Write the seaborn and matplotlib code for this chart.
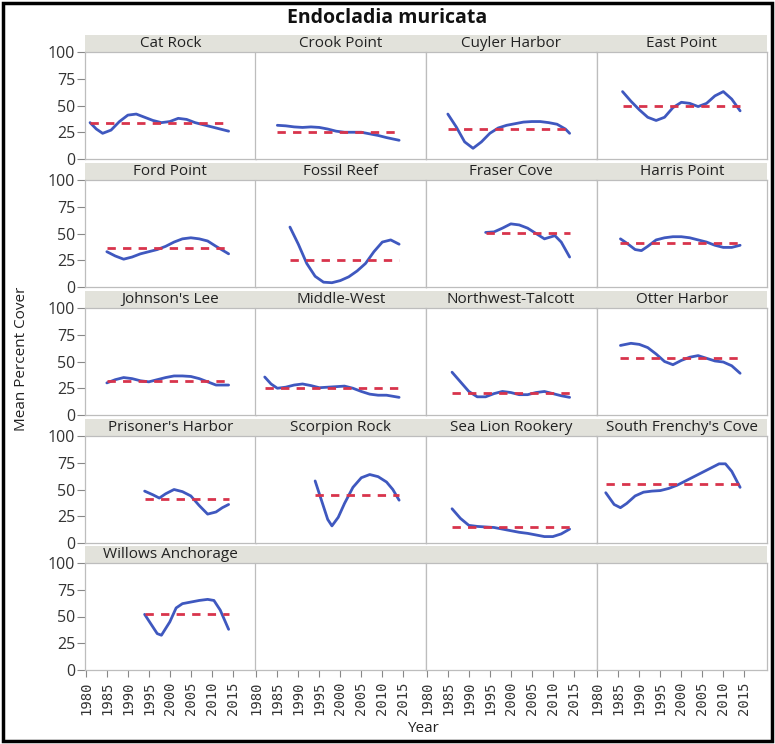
import numpy as np
import pandas as pd
import matplotlib
matplotlib.use('Agg')
import matplotlib.pyplot as plt
from matplotlib.patches import Rectangle
import seaborn as sns

sites = ['Cat Rock', 'Crook Point', 'Cuyler Harbor', 'East Point',
         'Ford Point', 'Fossil Reef', 'Fraser Cove', 'Harris Point',
         "Johnson's Lee", 'Middle-West', 'Northwest-Talcott', 'Otter Harbor',
         "Prisoner's Harbor", 'Scorpion Rock', 'Sea Lion Rookery', "South Frenchy's Cove",
         'Willows Anchorage']

# smoothed cover curve per site
years = {
    'Cat Rock': [1981, 1982.5, 1984, 1986, 1988, 1990, 1992, 1994, 1996, 1998, 2000, 2002, 2004, 2006, 2008, 2010, 2012, 2014],
    'Crook Point': [1985, 1987, 1989, 1991, 1993, 1995, 1997, 1999, 2001, 2003, 2005, 2007, 2009, 2011, 2014],
    'Cuyler Harbor': [1985, 1987, 1989, 1991, 1993, 1995, 1997, 1999, 2001, 2003, 2005, 2007, 2009, 2011, 2013, 2014],
    'East Point': [1986, 1988, 1990, 1992, 1994, 1996, 1998, 2000, 2002, 2004, 2006, 2008, 2010, 2012, 2014],
    'Ford Point': [1985, 1987, 1989, 1991, 1993, 1995, 1997, 1999, 2001, 2003, 2005, 2007, 2009, 2011, 2014],
    'Fossil Reef': [1988, 1990, 1992, 1994, 1996, 1998, 2000, 2002, 2004, 2006, 2008, 2010, 2012, 2014],
    'Fraser Cove': [1994, 1996, 1998, 2000, 2002, 2004, 2006, 2008, 2010.5, 2012, 2014],
    'Harris Point': [1985.5, 1987, 1989, 1990.5, 1992, 1994, 1996, 1998, 2000, 2002, 2004, 2006, 2008, 2010, 2012, 2014],
    "Johnson's Lee": [1985, 1987, 1989, 1991, 1993, 1995, 1997, 1999, 2001, 2003, 2005, 2007, 2009, 2011, 2014],
    'Middle-West': [1982, 1983.5, 1985, 1987, 1989, 1991, 1993, 1995, 1997, 1999, 2001, 2003, 2005, 2007, 2009, 2011, 2014],
    'Northwest-Talcott': [1986, 1988, 1990, 1992, 1994, 1996, 1998, 2000, 2002, 2004, 2006, 2008, 2010, 2012, 2014],
    'Otter Harbor': [1985.5, 1988, 1990, 1992, 1994, 1996, 1998, 2000, 2002, 2004, 2006, 2008, 2010, 2012, 2014],
    "Prisoner's Harbor": [1994, 1996, 1997.5, 1999, 2001, 2003, 2005, 2007, 2009, 2011, 2012.5, 2014],
    'Scorpion Rock': [1994, 1995.5, 1997, 1998, 1999.5, 2001, 2003, 2005, 2007, 2009, 2011, 2012.5, 2014],
    'Sea Lion Rookery': [1986, 1988, 1990, 1992, 1994, 1996, 1998, 2000, 2002, 2004, 2006, 2008, 2010, 2012, 2014],
    "South Frenchy's Cove": [1982, 1984, 1985.5, 1987, 1989, 1991, 1993, 1995, 1997, 1999, 2001, 2003, 2005, 2007, 2009, 2010.5, 2012, 2014],
    'Willows Anchorage': [1994, 1995.5, 1997, 1998, 2000, 2001.5, 2003, 2005, 2007, 2009, 2010.5, 2012, 2014],
}
cover = {
    'Cat Rock': [34, 28, 24, 27, 35, 41, 42, 39, 36, 34, 35, 38, 37, 34, 32, 30, 28, 26],
    'Crook Point': [31.5, 31, 30, 29.5, 30, 29.5, 28, 26, 25, 25, 25, 23.5, 22, 20, 17.5],
    'Cuyler Harbor': [42, 30, 16, 10, 16, 24, 29, 31.5, 33, 34.5, 35, 35, 34, 32.5, 28, 24],
    'East Point': [63, 54, 46, 39, 36, 39, 48, 53, 52, 49, 52, 59, 63, 56, 45],
    'Ford Point': [33, 29, 26, 28, 31, 33, 35, 38, 42, 45, 46, 45, 43, 38, 31],
    'Fossil Reef': [56, 40, 22, 10, 4.5, 4, 6, 9.5, 15, 22, 33, 42, 44, 40],
    'Fraser Cove': [51, 51.5, 55, 59, 58, 55, 50, 45, 48, 42, 28],
    'Harris Point': [45, 41, 35, 34, 38, 44, 46, 47, 47, 46, 44, 42, 39, 37, 37, 39],
    "Johnson's Lee": [30, 33, 35, 34, 32, 31, 33, 35, 36.5, 36.5, 36, 34, 31, 28, 28],
    'Middle-West': [35.5, 29, 25, 26, 28, 29, 27.5, 25.5, 26, 26.5, 27, 25, 22, 19.5, 18.5, 18.5, 16.5],
    'Northwest-Talcott': [40, 31, 22, 17, 17, 20, 22, 21, 19, 19, 21, 22, 20, 18, 16.5],
    'Otter Harbor': [65, 67, 66, 63, 57, 50, 47, 51, 54, 55.5, 53, 50.5, 49.5, 46, 39],
    "Prisoner's Harbor": [48.5, 45, 42, 46, 50, 48, 44, 35, 27, 29, 33, 36],
    'Scorpion Rock': [58, 40, 22, 16, 24, 37, 52, 61, 64, 62, 57, 50, 40],
    'Sea Lion Rookery': [32, 23, 16.5, 15.5, 15, 14.5, 13, 11.5, 10, 9, 7.5, 6, 6, 8.5, 13],
    "South Frenchy's Cove": [47, 36, 33, 37, 44, 47.5, 48.5, 49, 51, 54, 58, 62, 66, 70, 74, 74, 67, 52],
    'Willows Anchorage': [52, 43, 34, 32.5, 45, 58, 62, 63.5, 65, 66, 65, 56, 38],
}
# overall mean per site (red dashed line)
site_mean = [34, 25.5, 28.5, 50, 36, 25, 50.5, 41, 32, 25, 21, 53.5, 41, 45, 15, 55, 52]

x_ticks = [1980, 1985, 1990, 1995, 2000, 2005, 2010, 2015]
y_ticks = [0, 25, 50, 75, 100]

rows = []
for s in sites:
    for yr, v in zip(years[s], cover[s]):
        rows.append({'Site': s, 'Year': yr, 'Cover': v})
df = pd.DataFrame(rows)

sns.set_style('white')
plt.rcParams['font.family'] = ['Open Sans', 'DejaVu Sans']

W, H = 775, 744
fig = plt.figure(figsize=(W / 100, H / 100), dpi=100)

col_x = [85, 255.5, 426, 596.5, 767]
row_top = [52, 180, 308, 436, 563]
plot_h = 107
strip_h = 17
blue = '#3f58bf'
red = '#d8344c'
frame = '#bdbdbd'

for r in range(5):
    for c in range(4):
        x0, x1 = col_x[c], col_x[c + 1]
        top = row_top[r]
        ax = fig.add_axes([x0 / W, 1 - (top + plot_h) / H, (x1 - x0) / W, plot_h / H])
        ax.set_xlim(1979.8, 2020.4)
        ax.set_ylim(0, 100)
        for sp in ax.spines.values():
            sp.set_color(frame)
            sp.set_linewidth(0.9)
        ax.add_patch(Rectangle((0, 1), 1, strip_h / plot_h, transform=ax.transAxes,
                               clip_on=False, facecolor='#e2e2db', edgecolor='none'))
        i = r * 4 + c
        if i < len(sites):
            s = sites[i]
            sub = df[df['Site'] == s]
            sns.lineplot(data=sub, x='Year', y='Cover', ax=ax, color=blue,
                         linewidth=2.0, legend=False)
            ax.hlines(site_mean[i], years[s][0], years[s][-1], colors=red,
                      linestyles=(0, (3, 2.6)), linewidth=2.0, zorder=3)
            ax.text(0.5, 1 + strip_h / plot_h / 2, s, transform=ax.transAxes,
                    ha='center', va='center', fontsize=11, color='#222222')
        ax.set_xlabel('')
        ax.set_ylabel('')
        if c == 0:
            ax.set_yticks(y_ticks)
            ax.set_yticklabels([str(v) for v in y_ticks], fontsize=11.5, color='#333333')
            ax.tick_params(axis='y', length=6, width=0.8, color='#888888', pad=1, left=True)
        else:
            ax.set_yticks([])
        if r == 4:
            ax.set_xticks(x_ticks)
            ax.set_xticklabels([str(v) for v in x_ticks], rotation=90,
                               fontsize=10, family='DejaVu Sans Mono', color='#333333')
            ax.tick_params(axis='x', length=5, width=0.8, color='#888888', pad=3, bottom=True)
        else:
            ax.set_xticks([])

fig.text(387 / W, 1 - 18 / H, 'Endocladia muricata', ha='center', va='center',
         fontsize=14, fontweight='bold', color='#111111')
fig.text(22 / W, 1 - 359 / H, 'Mean Percent Cover', rotation=90, ha='center',
         va='center', fontsize=11, color='#222222')
fig.text(423 / W, 1 - 728 / H, 'Year', ha='center', va='center', fontsize=11,
         color='#222222')
fig.patches.append(Rectangle((3 / W, 3 / H), 1 - 6 / W, 1 - 6 / H, transform=fig.transFigure,
                             fill=False, edgecolor='black', linewidth=2.5))

fig.savefig('out.png', dpi=100)
